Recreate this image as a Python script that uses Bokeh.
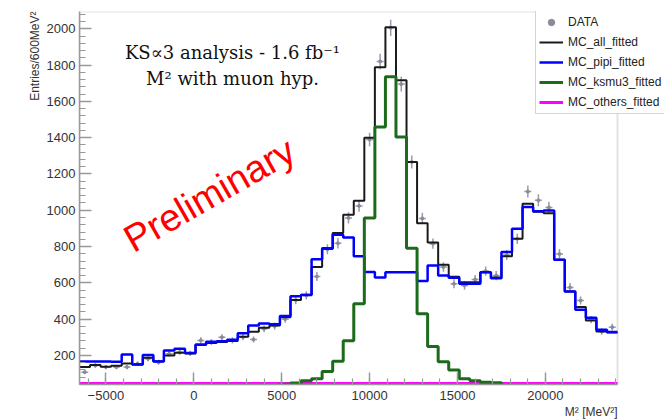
import numpy as np
from bokeh.plotting import figure
from bokeh.models import (Range1d, SingleIntervalTicker, Legend, LegendItem,
                          Label, Title, BoxAnnotation)
from bokeh.embed import file_html
from bokeh.resources import INLINE

# ---- binning (600 MeV^2 bins) ----
bin_low = -6500
bin_width = 600

# ---- series (entries per bin) ----
data_counts = [108, 145, 136, 136, 136, 154, 182, 163, 209, 218,
               212, 283, 274, 300, 283, 301, 288, 347, 362, 400,
               505, 531, 635, 785, 818, 958, 1024, 1390, 1820, 2005,
               1695, 1266, 955, 816, 687, 595, 586, 618, 665, 640,
               753, 843, 1103, 1055, 1015, 759, 575, 503, 398, 332, 356]

mc_all = [136, 148, 138, 143, 156, 150, 187, 168, 200, 215,
          211, 258, 268, 274, 280, 303, 330, 353, 365, 410,
          505, 535, 687, 792, 874, 975, 1053, 1400, 1788, 2008,
          1716, 1266, 928, 822, 700, 634, 604, 604, 659, 630,
          746, 843, 1036, 992, 983, 727, 552, 467, 393, 332, 326]

mc_pipi = [167, 167, 167, 165, 205, 150, 203, 167, 228, 237,
           214, 261, 276, 278, 286, 322, 365, 376, 372, 418,
           526, 533, 730, 788, 865, 850, 746, 660, 630, 659,
           659, 659, 610, 695, 641, 628, 595, 595, 659, 626,
           770, 898, 1018, 994, 999, 727, 552, 452, 408, 342, 329]

mc_ksmu3 = [0, 0, 0, 0, 0, 0, 0, 0, 0, 0,
            0, 0, 0, 0, 0, 0, 8, 12, 20, 42,
            48, 60, 72, 112, 168, 281, 485, 958, 1459, 1736,
            1404, 791, 430, 250, 165, 120, 72, 60, 52, 50,
            30, 22, 16, 12, 9, 6, 5, 4, 3, 2, 2]

mc_others = [45, 45, 45, 45, 45, 45, 45, 45, 45, 45,
             45, 45, 45, 45, 45, 45, 45, 45, 45, 45,
             45, 45, 45, 45, 45, 45, 45, 45, 45, 45,
             45, 45, 45, 45, 45, 45, 45, 45, 45, 45,
             45, 45, 45, 45, 45, 45, 45, 45, 45, 45, 45]

n_bins = len(data_counts)
edges = bin_low + bin_width * np.arange(n_bins + 1)
centers = edges[:-1] + bin_width / 2.0
data_arr = np.array(data_counts, dtype=float)
err = np.sqrt(data_arr)
half_w = bin_width / 3.0

Y0, Y1 = 40, 2095
# the histogram frame covers 538 px; the drawing area is widened to the
# window's right edge so that the legend can run past the frame (as in ROOT)
FRAME_PX = 538
EXTRA_PX = 47
x_end = edges[-1] + (edges[-1] - edges[0]) * EXTRA_PX / FRAME_PX


def step_vals(v):
    return list(v) + [v[-1]]


p = figure(width=664, height=419, output_backend="svg", toolbar_location=None,
           x_range=Range1d(edges[0], x_end), y_range=Range1d(Y0, Y1),
           min_border_left=79, min_border_right=0, min_border_top=11,
           min_border_bottom=35, background_fill_color="white",
           border_fill_color="white")

p.xgrid.visible = False
p.ygrid.visible = False
p.outline_line_color = None

p.xaxis.ticker = SingleIntervalTicker(interval=5000, num_minor_ticks=5)
p.yaxis.ticker = SingleIntervalTicker(interval=200, num_minor_ticks=5)
p.xaxis.bounds = (edges[0], edges[-1])
for ax in (p.xaxis[0], p.yaxis[0]):
    ax.major_tick_in = 12
    ax.major_tick_out = 0
    ax.minor_tick_in = 6
    ax.minor_tick_out = 0
    ax.axis_line_color = "#999999"
    ax.axis_line_width = 1.5
    ax.major_tick_line_color = "#999999"
    ax.major_tick_line_width = 1.5
    ax.minor_tick_line_color = "#999999"
    ax.minor_tick_line_width = 1.2
    ax.major_label_text_font = "Liberation Sans"
    ax.major_label_text_font_size = "13px"
    ax.major_label_text_color = "#333333"
p.xaxis[0].major_label_standoff = 6
p.yaxis[0].major_label_standoff = 4

# frame box of the histogram
p.add_layout(BoxAnnotation(left=edges[0], right=edges[-1], bottom=Y0, top=Y1,
                           fill_alpha=0, line_color="#a0a0a0", line_width=2,
                           level="underlay"))

# ---- histograms ----
r_oth = p.step(edges, step_vals(mc_others), mode="after",
               line_color="#ff00ff", line_width=3)
p.segment(centers, data_arr - err, centers, data_arr + err,
          line_color="#9c9cab", line_width=1.5)
p.segment(centers - half_w, data_arr, centers + half_w, data_arr,
          line_color="#9c9cab", line_width=1.5)
r_data = p.scatter(centers, data_arr, size=3, color="#8a8a99")
r_all = p.step(edges, step_vals(mc_all), mode="after",
               line_color="#1a1a1a", line_width=2)
r_pipi = p.step(edges, step_vals(mc_pipi), mode="after",
                line_color="#0000ff", line_width=2.5)
r_ks = p.step(edges, step_vals(mc_ksmu3), mode="after",
              line_color="#1c6b1c", line_width=3)

# ---- legend ----
legend = Legend(items=[
    LegendItem(label="DATA", renderers=[r_data]),
    LegendItem(label="MC_all_fitted", renderers=[r_all]),
    LegendItem(label="MC_pipi_fitted", renderers=[r_pipi]),
    LegendItem(label="MC_ksmu3_fitted", renderers=[r_ks]),
    LegendItem(label="MC_others_fitted", renderers=[r_oth]),
], location=(456, 270))
legend.label_text_font = "Liberation Sans"
legend.label_text_font_size = "12px"
legend.label_text_color = "#222222"
legend.glyph_width = 24
legend.glyph_height = 16
legend.label_height = 16
legend.spacing = 4
legend.padding = 3
legend.margin = 0
legend.label_standoff = 5
legend.border_line_color = "#aaaaaa"
legend.border_line_width = 1.5
legend.background_fill_color = "white"
legend.background_fill_alpha = 1.0
p.add_layout(legend)

# ---- texts ----
p.add_layout(Label(x=2200, y=1870, text="KS\u221d3 analysis - 1.6 fb\u207b\u00b9",
                   text_align="center", text_baseline="alphabetic",
                   text_font="DejaVu Serif", text_font_size="18px",
                   text_color="#111111"))
p.add_layout(Label(x=2200, y=1728, text="M\u00b2 with muon hyp.",
                   text_align="center", text_baseline="alphabetic",
                   text_font="DejaVu Serif", text_font_size="18px",
                   text_color="#111111"))
p.add_layout(Label(x=-3800, y=825, text="Preliminary", angle=0.52,
                   text_align="left", text_baseline="alphabetic",
                   text_font="Liberation Sans", text_font_size="38px",
                   text_color="#ff0000"))

p.add_layout(Title(text="Entries/600MeV\u00b2", align="right",
                   text_font="Liberation Sans", text_font_size="12px",
                   text_font_style="normal", text_color="#333333",
                   standoff=4), "left")
p.add_layout(Title(text="M\u00b2 [MeV\u00b2]", align="right", offset=EXTRA_PX,
                   text_font="Liberation Sans", text_font_size="12px",
                   text_font_style="normal", text_color="#333333",
                   standoff=0), "below")

open("out.html", "w").write(file_html(p, INLINE))
